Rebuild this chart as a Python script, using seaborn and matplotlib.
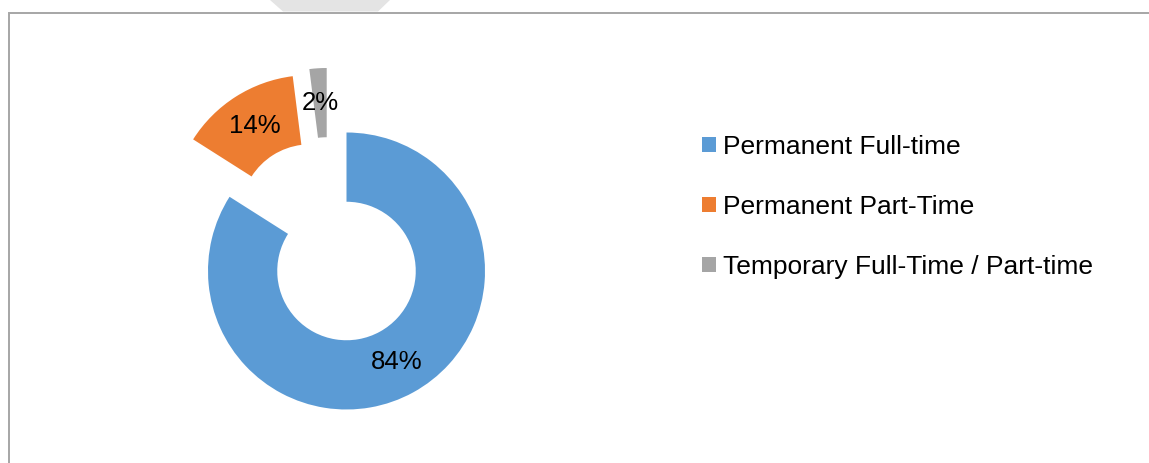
import matplotlib
matplotlib.use("Agg")
import matplotlib.pyplot as plt
import seaborn as sns
from matplotlib.patches import Rectangle, Polygon

# ---- data ----
categories = ["Permanent Full-time", "Permanent Part-Time", "Temporary Full-Time / Part-time"]
shares = [84, 14, 2]
colors = ["#5B9BD5", "#ED7D31", "#A5A5A5"]

sns.set_theme(style="white")
plt.rcParams["font.family"] = ["Liberation Sans", "DejaVu Sans"]

W, H = 1149, 463
fig = plt.figure(figsize=(W / 100, H / 100), dpi=100)
ax = fig.add_axes([0, 0, 1, 1])

R = 138.5
cx, cy = 346.5, H - 271
wedges, texts, autotexts = ax.pie(
    shares,
    colors=colors,
    startangle=90,
    counterclock=False,
    radius=R,
    center=(cx, cy),
    explode=[0, 68, 0],
    autopct="%1.0f%%",
    pctdistance=0.75,
    wedgeprops=dict(width=R * 0.5, linewidth=0),
    textprops=dict(fontsize=18.5, color="black"),
)

# the small grey slice is pulled out up and to the left
gdx, gdy = -19.8, 64.5
wc = wedges[2].center
wedges[2].set_center((wc[0] + gdx, wc[1] + gdy))
tx, ty = autotexts[2].get_position()
autotexts[2].set_position((tx + gdx, ty + gdy))

ax.set_xlim(0, W)
ax.set_ylim(0, H)
ax.set_aspect("equal")
ax.axis("off")

# chart frame (left and top edges visible)
ax.add_patch(Rectangle((8.5, -10), W + 50, H - 12.5 + 10, fill=False,
                       edgecolor="#A6A6A6", linewidth=1.4))
# faint decoration peeking above the frame
ax.add_patch(Polygon([(270, H), (390, H), (378, H - 11.5), (283, H - 11.5)],
                     closed=True, facecolor="#E4E4E4", edgecolor="none"))

leg = ax.legend(
    wedges, categories,
    loc="upper left",
    bbox_to_anchor=(702 / W, 1 - 135 / H),
    frameon=False,
    fontsize=19,
    labelcolor="black",
    handlelength=0.53,
    handleheight=0.53,
    handletextpad=0.25,
    labelspacing=1.36,
    borderpad=0,
    borderaxespad=0,
)

fig.savefig("out.png", dpi=100, facecolor="white")
